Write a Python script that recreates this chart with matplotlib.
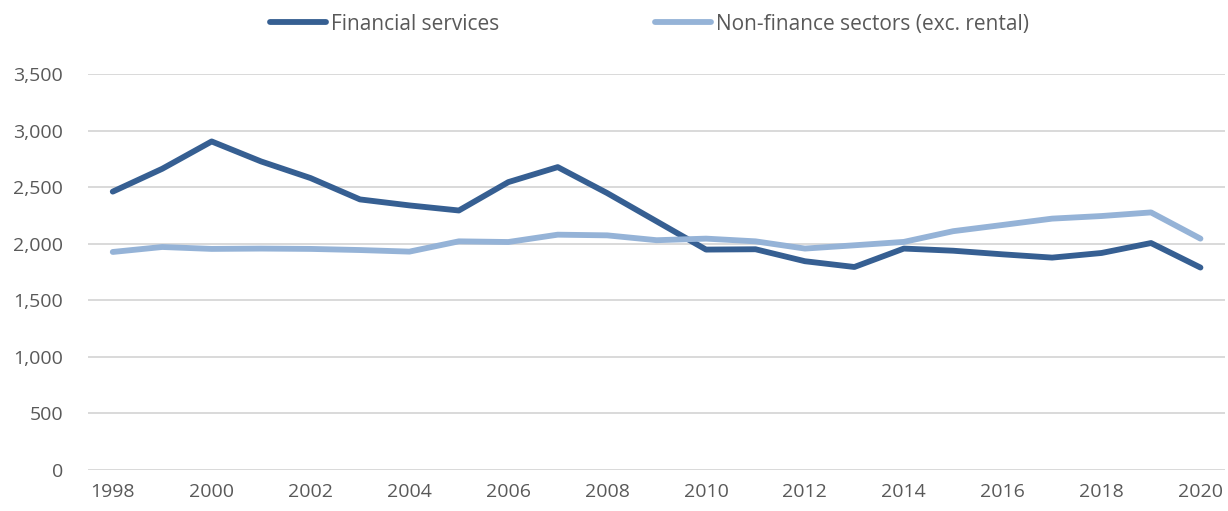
import matplotlib.pyplot as plt
from matplotlib.ticker import FuncFormatter

years = list(range(1998, 2021))
financial = [2460, 2662, 2904, 2727, 2580, 2391, 2338, 2293, 2544, 2677, 2447, 2197, 1947,
             1950, 1844, 1793, 1956, 1937, 1905, 1876, 1917, 2005, 1788]
non_finance = [1926, 1970, 1953, 1956, 1953, 1943, 1929, 2020, 2014, 2079, 2073, 2030, 2044,
               2020, 1956, 1985, 2015, 2110, 2165, 2221, 2244, 2276, 2044]

plt.rcParams['font.family'] = ['Open Sans', 'DejaVu Sans']
txt = '#595959'

fig = plt.figure(figsize=(12.28, 5.11), dpi=100)
ax = fig.add_axes([0.0717, 0.081, 0.926, 0.774])

ax.plot(years, financial, color='#365F92', lw=4.2, label='Financial services', solid_capstyle='round')
ax.plot(years, non_finance, color='#95B3D7', lw=4.2, label='Non-finance sectors (exc. rental)',
        solid_capstyle='round')

ax.set_xlim(1997.5, 2020.5)
ax.set_ylim(0, 3500)
ax.set_yticks(range(0, 3501, 500))
ax.set_xticks(range(1998, 2021, 2))
ax.yaxis.set_major_formatter(FuncFormatter(lambda v, p: f'{int(v):,}'))
ax.grid(axis='y', color='#D9D9D9', lw=1.4)
ax.set_axisbelow(True)
for s in ax.spines.values():
    s.set_visible(False)
ax.tick_params(length=0, labelsize=14, colors=txt)
ax.tick_params(axis='x', pad=10)
ax.tick_params(axis='y', pad=18)

leg = fig.legend(loc='upper center', bbox_to_anchor=(0.529, 1.01), ncol=2, frameon=False,
                 fontsize=15, handlelength=2.65, handletextpad=0.25, columnspacing=7.5)
for t in leg.get_texts():
    t.set_color(txt)

fig.savefig('out.png', dpi=100)
